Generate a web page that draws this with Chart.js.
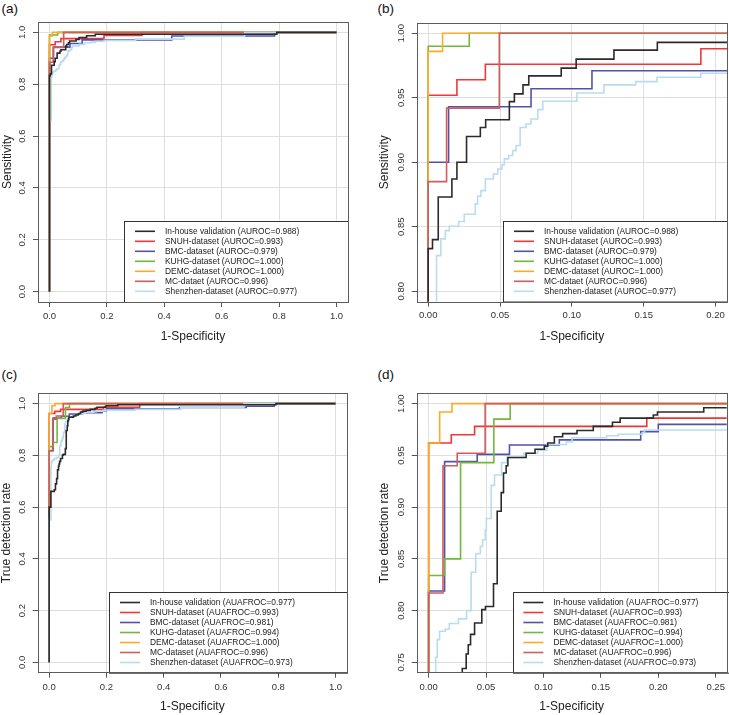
<!DOCTYPE html>
<html><head><meta charset="utf-8">
<script src="https://cdn.jsdelivr.net/npm/chart.js@4.4.1/dist/chart.umd.min.js"></script>
<style>
html,body{margin:0;padding:0;background:#fff;width:729px;height:715px;overflow:hidden;}
.pan{position:absolute;}
.lab{position:absolute;font-family:"Liberation Sans",Arial,sans-serif;font-size:13.5px;line-height:16px;color:#111;}
</style></head><body>
<div class="lab" style="left:1.5px;top:1px">(a)</div>
<div class="lab" style="left:377.5px;top:1px">(b)</div>
<div class="lab" style="left:1.5px;top:367px">(c)</div>
<div class="lab" style="left:377.5px;top:367px">(d)</div>
<div class="pan" style="left:0;top:0"><canvas id="ca" width="364" height="345"></canvas></div>
<div class="pan" style="left:365px;top:0"><canvas id="cb" width="364" height="345"></canvas></div>
<div class="pan" style="left:0;top:345px"><canvas id="cc" width="364" height="370"></canvas></div>
<div class="pan" style="left:365px;top:345px"><canvas id="cd" width="364" height="370"></canvas></div>
<script>
// ---------- data: ROC (panels a, b) ----------
const rocInhouseX = [0, 0, 0.003, 0.007, 0.0165, 0.020, 0.0267, 0.0363, 0.040, 0.0565, 0.060, 0.066, 0.070, 0.0926, 0.103, 0.1293, 0.1595, 0.792, 1.0];
const rocInhouseY = [0, 0.833, 0.840, 0.873, 0.887, 0.900, 0.920, 0.927, 0.933, 0.947, 0.953, 0.960, 0.967, 0.973, 0.980, 0.987, 0.993, 1.0, 1.0];
const rocSnuhX = [0, 0, 0.020, 0.0398, 0.1898, 0.322, 1.0];
const rocSnuhY = [0, 0.952, 0.964, 0.976, 0.988, 1.0, 1.0];
const rocBmcX = [0, 0, 0.0142, 0.0716, 0.114, 0.426, 0.784, 1.0];
const rocBmcY = [0, 0.900, 0.943, 0.957, 0.971, 0.986, 1.0, 1.0];
const rocKuhgX = [0, 0, 0.0286, 1.0];
const rocKuhgY = [0, 0.990, 1.0, 1.0];
const rocDemcX = [0, 0, 0.010, 1.0];
const rocDemcY = [0, 0.986, 1.0, 1.0];
const rocMcX = [0, 0, 0.0128, 0.0495, 1.0];
const rocMcY = [0, 0.885, 0.942, 1.0, 1.0];
const rocShenzhenX = [0, 0, 0.0058, 0.0088, 0.0119, 0.0147, 0.0212, 0.0251, 0.0328, 0.0344, 0.0367, 0.0398, 0.0454, 0.0484, 0.0514, 0.053, 0.056, 0.0588, 0.0612, 0.064, 0.0681, 0.0716, 0.0763, 0.0798, 0.1035, 0.1223, 0.1444, 0.1593, 0.1898, 0.30, 0.47, 0.68, 1.0];
const rocShenzhenY = [0, 0.66, 0.8276, 0.8406, 0.847, 0.8504, 0.854, 0.8597, 0.8677, 0.8736, 0.878, 0.887, 0.891, 0.8948, 0.898, 0.9026, 0.9052, 0.909, 0.913, 0.927, 0.9297, 0.9336, 0.9408, 0.9473, 0.9537, 0.96, 0.9625, 0.9659, 0.969, 0.974, 0.985, 1.0, 1.0];

// ---------- data: AFROC (panels c, d) ----------
const afInhouseX = [0, 0, 0.006, 0.018, 0.022, 0.026, 0.0293, 0.0327, 0.0345, 0.0365, 0.040, 0.0463, 0.0495, 0.0565, 0.0597, 0.0632, 0.0652, 0.0675, 0.069, 0.0849, 0.0927, 0.1008, 0.1037, 0.1095, 0.1167, 0.1292, 0.1434, 0.1601, 0.1668, 0.1957, 0.1993, 0.2396, 0.792, 1.0];
const afInhouseY = [0, 0.600, 0.661, 0.667, 0.690, 0.710, 0.744, 0.758, 0.767, 0.777, 0.788, 0.801, 0.804, 0.826, 0.896, 0.914, 0.933, 0.940, 0.948, 0.952, 0.956, 0.959, 0.962, 0.968, 0.971, 0.974, 0.978, 0.982, 0.986, 0.989, 0.992, 0.996, 1.0, 1.0];
const afSnuhX = [0, 0, 0.0197, 0.040, 0.19, 0.316, 1.0];
const afSnuhY = [0, 0.962, 0.970, 0.978, 0.986, 1.0, 1.0];
const afBmcX = [0, 0, 0.0139, 0.0423, 0.0704, 0.1138, 0.1847, 0.20, 0.455, 0.688, 0.786, 1.0];
const afBmcY = [0, 0.819, 0.944, 0.951, 0.960, 0.965, 0.973, 0.980, 0.985, 0.990, 1.0, 1.0];
const afKuhgX = [0, 0, 0.0139, 0.0278, 0.0568, 0.071, 1.0];
const afKuhgY = [0, 0.834, 0.850, 0.943, 0.985, 1.0, 1.0];
const afDemcX = [0, 0, 0.0096, 0.0203, 1.0];
const afDemcY = [0, 0.962, 0.992, 1.0, 1.0];
const afMcX = [0, 0, 0.0125, 0.0249, 0.0492, 1.0];
const afMcY = [0, 0.817, 0.940, 0.952, 1.0, 1.0];
const afShenzhenX = [0, 0, 0.0061, 0.0075, 0.0095, 0.0145, 0.018, 0.026, 0.033, 0.037, 0.041, 0.045, 0.047, 0.0493, 0.0503, 0.0545, 0.0574, 0.0635, 0.068, 0.083, 0.095, 0.103, 0.12, 0.125, 0.155, 0.165, 0.186, 0.188, 0.30, 0.46, 0.68, 1.0];
const afShenzhenY = [0, 0.55, 0.755, 0.772, 0.780, 0.782, 0.7875, 0.792, 0.800, 0.837, 0.855, 0.862, 0.8685, 0.878, 0.889, 0.921, 0.931, 0.943, 0.948, 0.952, 0.955, 0.9605, 0.963, 0.967, 0.969, 0.9705, 0.972, 0.9745, 0.978, 0.985, 1.0, 1.0];

// ---------- labels ----------
const rocLegend = ['In-house validation (AUROC=0.988)', 'SNUH-dataset (AUROC=0.993)', 'BMC-dataset (AUROC=0.979)', 'KUHG-dataset (AUROC=1.000)', 'DEMC-dataset (AUROC=1.000)', 'MC-dataet (AUROC=0.996)', 'Shenzhen-dataset (AUROC=0.977)'];
const afrocLegend = ['In-house validation (AUAFROC=0.977)', 'SNUH-dataset (AUAFROC=0.993)', 'BMC-dataset (AUAFROC=0.981)', 'KUHG-dataset (AUAFROC=0.994)', 'DEMC-dataset (AUAFROC=1.000)', 'MC-dataset (AUAFROC=0.996)', 'Shenzhen-dataset (AUAFROC=0.973)'];
const seriesColors = ['#2b2b2b', '#f03636', '#5252ae', '#72b83a', '#fbaa2a', '#cc5e5e', '#b8dcf0'];
// drawing stack (lower = drawn on top)
const seriesOrder = [0, 6, 5, 4, 3, 2, 1];

// ---------- ticks ----------
const fullTicks = [0, 0.2, 0.4, 0.6, 0.8, 1.0];
const fullTickLabels = ['0.0', '0.2', '0.4', '0.6', '0.8', '1.0'];
const bXTicks = [0, 0.05, 0.10, 0.15, 0.20];
const bXTickLabels = ['0.00', '0.05', '0.10', '0.15', '0.20'];
const bYTicks = [0.80, 0.85, 0.90, 0.95, 1.00];
const bYTickLabels = ['0.80', '0.85', '0.90', '0.95', '1.00'];
const dXTicks = [0, 0.05, 0.10, 0.15, 0.20, 0.25];
const dXTickLabels = ['0.00', '0.05', '0.10', '0.15', '0.20', '0.25'];
const dYTicks = [0.75, 0.80, 0.85, 0.90, 0.95, 1.00];
const dYTickLabels = ['0.75', '0.80', '0.85', '0.90', '0.95', '1.00'];

const FAM = '"Liberation Sans", Arial, sans-serif';
const rocSeries = [[rocInhouseX, rocInhouseY], [rocSnuhX, rocSnuhY], [rocBmcX, rocBmcY], [rocKuhgX, rocKuhgY], [rocDemcX, rocDemcY], [rocMcX, rocMcY], [rocShenzhenX, rocShenzhenY]];
const afSeries = [[afInhouseX, afInhouseY], [afSnuhX, afSnuhY], [afBmcX, afBmcY], [afKuhgX, afKuhgY], [afDemcX, afDemcY], [afMcX, afMcY], [afShenzhenX, afShenzhenY]];

const deco = {
  id: 'deco',
  afterDatasetsDraw(chart, args, o) {
    const ctx = chart.ctx, a = chart.chartArea, L = o.legend;
    ctx.save();
    ctx.fillStyle = '#fff';
    ctx.fillRect(L.left, L.top, L.width, a.bottom - L.top);
    ctx.strokeStyle = '#333'; ctx.lineWidth = 1;
    ctx.strokeRect(Math.round(L.left) + 0.5, Math.round(L.top) + 0.5, L.width, a.bottom - Math.round(L.top));
    ctx.font = '8.4px ' + FAM; ctx.textBaseline = 'middle'; ctx.textAlign = 'left';
    chart.data.datasets.forEach((ds, i) => {
      const y = L.top + 10.8 + i * 10;
      ctx.strokeStyle = ds.borderColor; ctx.lineWidth = 1.6;
      ctx.beginPath(); ctx.moveTo(L.left + 10.7, y); ctx.lineTo(L.left + 30.7, y); ctx.stroke();
      ctx.fillStyle = '#1a1a1a';
      ctx.fillText(ds.label, L.left + 40.7, y + 0.5);
    });
    ctx.restore();
  },
  afterDraw(chart, args, o) {
    const ctx = chart.ctx, a = chart.chartArea, ys = chart.scales.y;
    ctx.save();
    ctx.strokeStyle = '#5c5c5c'; ctx.lineWidth = 1;
    ctx.strokeRect(Math.round(a.left) + 0.5, Math.round(a.top) + 0.5, Math.round(a.right - a.left), Math.round(a.bottom - a.top));
    ctx.font = '9.5px ' + FAM; ctx.fillStyle = '#333'; ctx.textAlign = 'center'; ctx.textBaseline = 'middle';
    ys.ticks.forEach((t, i) => {
      ctx.save();
      ctx.translate(a.left - 15.3, ys.getPixelForValue(t.value));
      ctx.rotate(-Math.PI / 2);
      ctx.fillText(o.yLabels[i], 0, 0);
      ctx.restore();
    });
    ctx.restore();
  }
};

function makeChart(id, p) {
  const cv = document.getElementById(id);
  const W = cv.width, H = cv.height, a = p.area;
  return new Chart(cv, {
    type: 'line',
    data: {
      datasets: p.series.map((s, i) => ({
        label: p.labels[i],
        data: s[0].map((v, k) => ({ x: v, y: s[1][k] })),
        borderColor: seriesColors[i], borderWidth: 1.6, pointRadius: 0,
        stepped: 'before', fill: false, tension: 0, order: seriesOrder[i]
      }))
    },
    options: {
      responsive: false, animation: false, events: [],
      layout: { padding: { left: 0, top: a.t, right: W - a.r, bottom: 0 } },
      plugins: { legend: { display: false }, tooltip: { enabled: false },
        deco: { legend: p.legend, yLabels: p.yTickLabels } },
      scales: {
        x: {
          type: 'linear', position: 'bottom', min: p.xMin, max: p.xMax, bounds: 'data',
          afterBuildTicks: sc => { sc.ticks = p.xTicks.map(v => ({ value: v })); },
          afterFit: sc => { sc.height = H - a.b; },
          ticks: { autoSkip: false, maxRotation: 0, minRotation: 0, padding: 3.5, color: '#333',
            font: { family: FAM, size: 9.5 }, callback: (v, i) => p.xTickLabels[i] },
          grid: { color: '#dedede', lineWidth: 1, tickColor: '#555', tickLength: 5 },
          border: { display: false },
          title: { display: true, text: '1-Specificity', color: '#222', font: { family: FAM, size: 12 }, padding: { top: 0, bottom: 1.5 } }
        },
        y: {
          type: 'linear', position: 'left', min: p.yMin, max: p.yMax, bounds: 'data',
          afterBuildTicks: sc => { sc.ticks = p.yTicks.map(v => ({ value: v })); },
          afterFit: sc => { sc.width = a.l; },
          ticks: { display: false },
          grid: { color: '#dedede', lineWidth: 1, tickColor: '#555', tickLength: 5 },
          border: { display: false },
          title: { display: true, text: p.yTitle, color: '#222', font: { family: FAM, size: 12 }, padding: { top: p.yTitlePad, bottom: 0 } }
        }
      }
    },
    plugins: [deco]
  });
}

makeChart('ca', { series: rocSeries, labels: rocLegend, area: { l: 38, t: 22, r: 348, b: 302 },
  xMin: -0.04, xMax: 1.04, yMin: -0.04, yMax: 1.04, xTicks: fullTicks, xTickLabels: fullTickLabels,
  yTicks: fullTicks, yTickLabels: fullTickLabels, yTitle: 'Sensitivity', yTitlePad: 0.8,
  legend: { left: 124.3, top: 220.5, width: 224 } });
makeChart('cb', { series: rocSeries, labels: rocLegend, area: { l: 51.7, t: 23, r: 362, b: 301.5 },
  xMin: -0.008, xMax: 0.208, yMin: 0.792, yMax: 1.008, xTicks: bXTicks, xTickLabels: bXTickLabels,
  yTicks: bYTicks, yTickLabels: bYTickLabels, yTitle: 'Sensitivity', yTitlePad: 12.8,
  legend: { left: 138.3, top: 220.5, width: 224 } });
makeChart('cc', { series: afSeries, labels: afrocLegend, area: { l: 37.7, t: 48.3, r: 347, b: 327.7 },
  xMin: -0.04, xMax: 1.04, yMin: -0.04, yMax: 1.04, xTicks: fullTicks, xTickLabels: fullTickLabels,
  yTicks: fullTicks, yTickLabels: fullTickLabels, yTitle: 'True detection rate', yTitlePad: -0.5,
  legend: { left: 109.3, top: 246.7, width: 238 } });
makeChart('cd', { series: afSeries, labels: afrocLegend, area: { l: 51.7, t: 48.3, r: 361.7, b: 327.7 },
  xMin: -0.0104, xMax: 0.2596, yMin: 0.74, yMax: 1.01, xTicks: dXTicks, xTickLabels: dXTickLabels,
  yTicks: dYTicks, yTickLabels: dYTickLabels, yTitle: 'True detection rate', yTitlePad: 12.8,
  legend: { left: 147.7, top: 246.7, width: 238 } });
</script>
</body></html>
